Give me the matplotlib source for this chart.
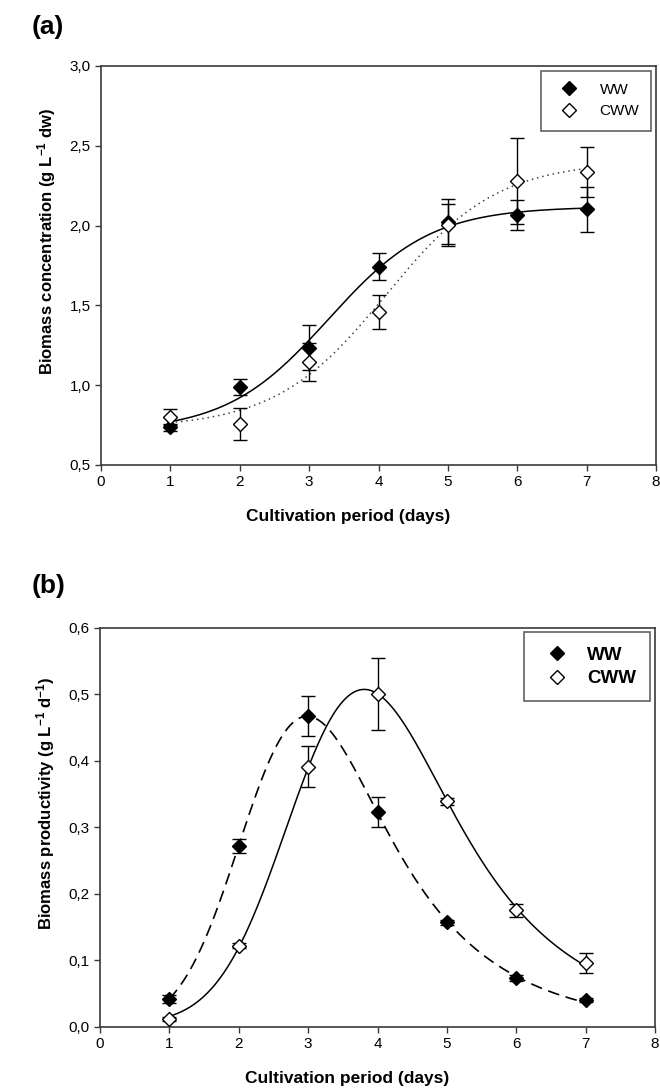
import numpy as np
import matplotlib
matplotlib.use("Agg")
import matplotlib.pyplot as plt
from matplotlib.lines import Line2D
from matplotlib.ticker import FuncFormatter

plt.rcParams['font.family'] = ['Liberation Sans', 'DejaVu Sans']
plt.rcParams['mathtext.fontset'] = 'custom'
plt.rcParams['mathtext.rm'] = 'Liberation Sans:bold'
plt.rcParams['mathtext.bf'] = 'Liberation Sans:bold'
plt.rcParams['mathtext.default'] = 'bf'

# Dados
days = [1, 2, 3, 4, 5, 6, 7]

ww_conc = [0.735, 0.99, 1.235, 1.742, 2.024, 2.066, 2.102]
ww_conc_err = [0.02, 0.05, 0.14, 0.085, 0.14, 0.095, 0.14]
cww_conc = [0.803, 0.757, 1.147, 1.46, 2.004, 2.281, 2.337]
cww_conc_err = [0.05, 0.10, 0.12, 0.105, 0.13, 0.27, 0.155]

ww_prod = [0.042, 0.272, 0.467, 0.323, 0.157, 0.073, 0.040]
ww_prod_err = [0.006, 0.011, 0.03, 0.022, 0.004, 0.004, 0.003]
cww_prod = [0.012, 0.122, 0.391, 0.500, 0.339, 0.175, 0.096]
cww_prod_err = [0.003, 0.004, 0.031, 0.054, 0.005, 0.010, 0.015]

series_labels = ['WW', 'CWW']


# Ajuste por minimos quadrados: y = y0 + a*f(x; p, q, r), busca em grade nos parametros nao lineares
def ajustar(x, y, forma, p_range, q_range, r_range=(0.0,)):
    x = np.asarray(x, float)
    y = np.asarray(y, float)
    P, Q = np.meshgrid(p_range, q_range)
    P = P.ravel()[:, None]
    Q = Q.ravel()[:, None]
    melhor = None
    for r in r_range:
        with np.errstate(all='ignore'):
            f = forma(x[None, :], P, Q, r)
        fm = f.mean(axis=1, keepdims=True)
        ym = y.mean()
        a = ((f - fm) * (y - ym)).sum(axis=1, keepdims=True) / ((f - fm) ** 2).sum(axis=1, keepdims=True)
        y0 = ym - a * fm
        sse = ((y0 + a * f - y) ** 2).sum(axis=1)
        i = np.nanargmin(sse)
        if melhor is None or sse[i] < melhor[0]:
            melhor = (sse[i], y0[i, 0], a[i, 0], P[i, 0], Q[i, 0], r)
    return melhor[1:]


def sigmoide(x, x0, b, r=0.0):
    return 1.0 / (1.0 + np.exp(-(x - x0) / b))


def emg(x, mu, sigma, lam):
    # gaussiana modificada exponencialmente (pico com cauda a direita)
    A = lam / 2 * (2 * mu + lam * sigma ** 2 - 2 * x)
    z = (mu + lam * sigma ** 2 - x) / (np.sqrt(2) * sigma)
    t = 1.0 / (1.0 + 0.5 * np.abs(z))
    poly = -1.26551223 + t * (1.00002368 + t * (0.37409196 + t * (0.09678418 + t * (
        -0.18628806 + t * (0.27886807 + t * (-1.13520398 + t * (1.48851587 + t * (
            -0.82215223 + t * 0.17087277))))))))
    pos = t * np.exp(A - z * z + poly)
    neg = np.exp(A) * (2.0 - t * np.exp(-z * z + poly))
    return np.where(z >= 0, pos, neg)


def curva(x, y, forma, p_range, q_range, r_range=(0.0,)):
    y0, a, p, q, r = ajustar(x, y, forma, p_range, q_range, r_range)
    xs = np.linspace(min(x), max(x), 300)
    return xs, y0 + a * forma(xs, p, q, r)


virgula = FuncFormatter(lambda v, p: f'{v:.1f}'.replace('.', ','))

fig = plt.figure(figsize=(6.6, 10.88), dpi=100)
ax1 = fig.add_axes([101 / 660, 1 - 465 / 1088, 555 / 660, 399 / 1088])
ax2 = fig.add_axes([100 / 660, 1 - 1026.7 / 1088, 555 / 660, 399 / 1088])

spine_cor = '#3a3a3a'


def estilo(ax):
    for s in ax.spines.values():
        s.set_color(spine_cor)
        s.set_linewidth(1.2)
    ax.tick_params(direction='out', length=4, width=1, color=spine_cor,
                   labelsize=11, top=False, right=False)
    ax.set_xlim(0, 8)
    ax.set_xticks(range(0, 9))
    ax.yaxis.set_major_formatter(virgula)


def rotulos(ax, ylabel):
    ax.set_xlabel('Cultivation period (days)', fontsize=12.5, fontweight='bold', labelpad=14)
    ax.set_ylabel(ylabel, fontsize=12, fontweight='bold', labelpad=8)
    # no original os titulos dos eixos nao ficam centrados
    ax.xaxis.label.set_x(0.445)
    ax.yaxis.label.set_y(0.56)


def pontos(ax, y, err, cheio):
    ax.errorbar(days, y, yerr=err, fmt='none', ecolor='black', elinewidth=1,
                capsize=5, capthick=1, zorder=3)
    ax.plot(days, y, linestyle='none', marker='D', markersize=7,
            markerfacecolor='black' if cheio else 'white',
            markeredgecolor='black', markeredgewidth=1, zorder=4)


# (a) concentracao de biomassa
estilo(ax1)
xs, ys = curva(days, ww_conc, sigmoide, np.arange(2.0, 5.5, 0.01), np.arange(0.2, 2.0, 0.01))
ax1.plot(xs, ys, color='black', lw=1.1, zorder=2)
xs, ys = curva(days, cww_conc, sigmoide, np.arange(2.0, 5.5, 0.01), np.arange(0.2, 2.0, 0.01))
ax1.plot(xs, ys, color='#444444', lw=1.1, linestyle=(0, (1, 2.5)), zorder=2)
pontos(ax1, ww_conc, ww_conc_err, True)
pontos(ax1, cww_conc, cww_conc_err, False)
ax1.set_ylim(0.5, 3.0)
ax1.set_yticks(np.arange(0.5, 3.01, 0.5))
rotulos(ax1, r'Biomass concentration (g L$^{-1}$ dw)')

h = [Line2D([], [], linestyle='none', marker='D', markersize=7, markerfacecolor=c,
            markeredgecolor='black') for c in ['black', 'white']]
leg = ax1.legend(h, series_labels, loc='upper right', fontsize=11, frameon=True,
                 fancybox=False, edgecolor=spine_cor, borderpad=0.8,
                 handletextpad=1.0, borderaxespad=0.3)
leg.get_frame().set_linewidth(1.2)

# (b) produtividade de biomassa
estilo(ax2)
mu_grade = np.arange(1.2, 4.0, 0.02)
sigma_grade = np.arange(0.2, 1.6, 0.02)
lam_grade = np.arange(0.2, 5.0, 0.05)
xs, ys = curva(days, ww_prod, emg, mu_grade, sigma_grade, lam_grade)
ax2.plot(xs, ys, color='black', lw=1.2, linestyle=(0, (7, 4)), zorder=2)
xs, ys = curva(days, cww_prod, emg, mu_grade, sigma_grade, lam_grade)
ax2.plot(xs, ys, color='black', lw=1.1, zorder=2)
pontos(ax2, ww_prod, ww_prod_err, True)
pontos(ax2, cww_prod, cww_prod_err, False)
ax2.set_ylim(0, 0.6)
ax2.set_yticks(np.arange(0, 0.61, 0.1))
rotulos(ax2, r'Biomass productivity (g L$^{-1}$ d$^{-1}$)')
leg = ax2.legend(h, series_labels, loc='upper right', frameon=True,
                 fancybox=False, edgecolor=spine_cor, borderpad=0.75,
                 handletextpad=0.6, labelspacing=0.35, borderaxespad=0.25,
                 prop={'weight': 'bold', 'size': 13.5})
leg.get_frame().set_linewidth(1.2)

fig.text(32 / 660, 1 - 15 / 1088, '(a)', fontsize=19, fontweight='bold', va='top')
fig.text(32 / 660, 1 - 574 / 1088, '(b)', fontsize=19, fontweight='bold', va='top')

fig.savefig('out.png', dpi=100)
